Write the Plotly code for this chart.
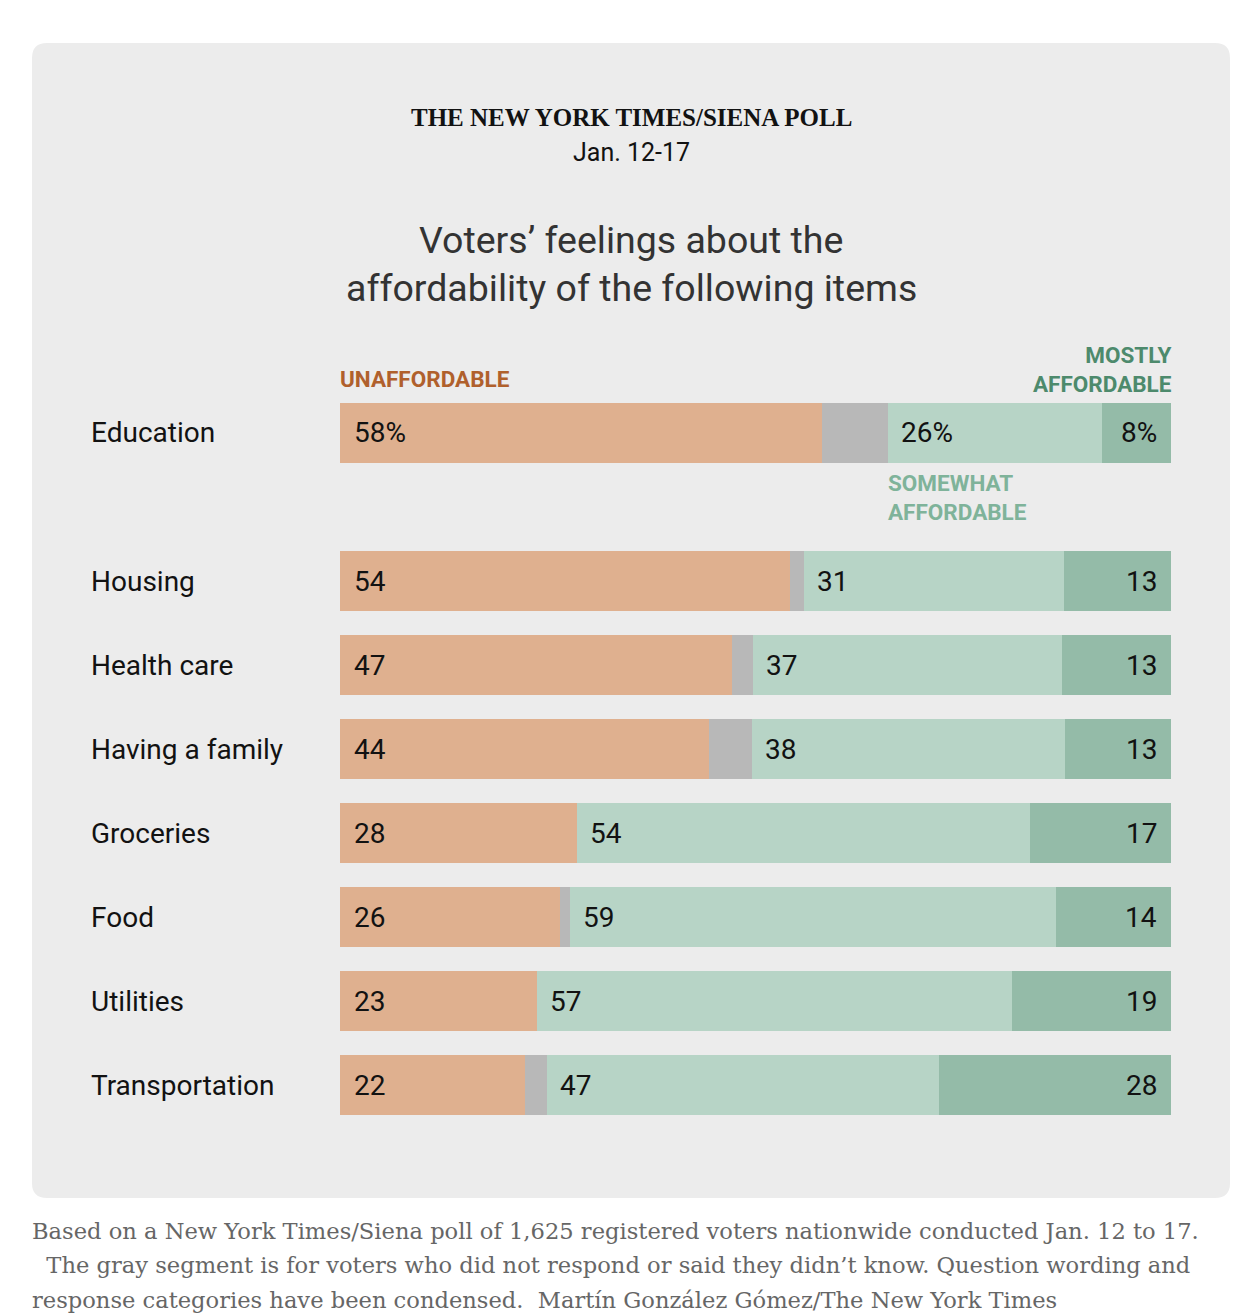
import plotly.graph_objects as go

# poll results, share of voters (%) - widths
items = ['Education', 'Housing', 'Health care', 'Having a family',
         'Groceries', 'Food', 'Utilities', 'Transportation']
unaffordable = [58.0, 54.2, 47.2, 44.4, 28.5, 26.5, 23.7, 22.3]
no_answer = [7.9, 1.6, 2.5, 5.2, 0.0, 1.2, 0.0, 2.6]
somewhat = [25.8, 31.3, 37.2, 37.6, 54.5, 58.5, 57.2, 47.2]
mostly = [8.3, 12.9, 13.1, 12.8, 17.0, 13.8, 19.1, 27.9]

# rounded figures printed on the bars
unaff_labels = [58, 54, 47, 44, 28, 26, 23, 22]
somewhat_labels = [26, 31, 37, 38, 54, 59, 57, 47]
mostly_labels = [8, 13, 13, 13, 17, 14, 19, 28]

W, H = 1234, 1314


def px(x):
    return x / W


def py(y):
    return 1 - y / H


ORANGE = '#dfb08f'
GRAY = '#b8b8b8'
LIGHT_GREEN = '#b7d4c6'
DARK_GREEN = '#94bba8'
SANS = 'Roboto, Arial, sans-serif'
SERIF = 'Liberation Serif, Georgia, serif'
NOTE_SERIF = 'DejaVu Serif, Georgia, serif'

segments = [
    ('Unaffordable', unaffordable, ORANGE),
    ('No answer', no_answer, GRAY),
    ('Somewhat affordable', somewhat, LIGHT_GREEN),
    ('Mostly affordable', mostly, DARK_GREEN),
]

fig = go.Figure()

# Education sits on its own axis (larger gap below it), the rest share y2
for name, vals, color in segments:
    fig.add_trace(go.Bar(
        y=items[:1], x=vals[:1], orientation='h', name=name,
        marker=dict(color=color, line=dict(width=0)),
        xaxis='x', yaxis='y', hoverinfo='skip', showlegend=False))
    fig.add_trace(go.Bar(
        y=items[1:], x=vals[1:], orientation='h', name=name,
        marker=dict(color=color, line=dict(width=0)),
        xaxis='x2', yaxis='y2', hoverinfo='skip', showlegend=False))

annotations = []
label_font = dict(family=SANS, size=28, color='#121212')
for i, item in enumerate(items):
    xr, yr = ('x', 'y') if i == 0 else ('x2', 'y2')
    pct = '%' if i == 0 else ''
    # row label on the left
    annotations.append(dict(
        x=px(89), xref='paper', y=item, yref=yr, text=item,
        xanchor='left', yanchor='middle', showarrow=False,
        font=dict(family=SANS, size=28, color='#121212')))
    annotations.append(dict(
        x=0, xref=xr, y=item, yref=yr, text=f'{unaff_labels[i]}{pct}',
        xanchor='left', yanchor='middle', xshift=12, showarrow=False,
        font=label_font))
    annotations.append(dict(
        x=unaffordable[i] + no_answer[i], xref=xr, y=item, yref=yr,
        text=f'{somewhat_labels[i]}{pct}', xanchor='left', yanchor='middle',
        xshift=11, showarrow=False, font=label_font))
    annotations.append(dict(
        x=100, xref=xr, y=item, yref=yr, text=f'{mostly_labels[i]}{pct}',
        xanchor='right', yanchor='middle', xshift=-12, showarrow=False,
        font=label_font))

# category headers
head_font = dict(family=SANS, size=22.5)
headers = [
    ('UNAFFORDABLE', 0, 379, 'left', -2, '#b0602c'),
    ('MOSTLY<br>AFFORDABLE', 100, 369, 'right', 3, '#4d8a6c'),
    ('SOMEWHAT<br>AFFORDABLE', unaffordable[0] + no_answer[0], 497, 'left', -2, '#7fb39a'),
]
for text, xv, yy, anchor, shift, color in headers:
    annotations.append(dict(
        x=xv, xref='x', y=py(yy), yref='paper', text=f'<b>{text}</b>',
        xanchor=anchor, yanchor='middle', align=anchor, xshift=shift,
        showarrow=False, font=dict(head_font, color=color)))

# titles
titles = [
    ('<b>THE NEW YORK TIMES/SIENA POLL</b>', 118, SERIF, 25, '#121212'),
    ('Jan. 12-17', 152, SANS, 25, '#121212'),
    ('Voters\u2019 feelings about the', 240, SANS, 37.5, '#333333'),
    ('affordability of the following items', 288, SANS, 37.5, '#333333'),
]
for text, yy, family, size, color in titles:
    annotations.append(dict(
        x=px(631), y=py(yy), xref='paper', yref='paper', text=text,
        xanchor='center', yanchor='middle', showarrow=False,
        font=dict(family=family, size=size, color=color)))

# footnote below the panel
notes = [
    'Based on a New York Times/Siena poll of 1,625 registered voters nationwide conducted Jan. 12 to 17.',
    '\u00a0\u00a0The gray segment is for voters who did not respond or said they didn\u2019t know. Question wording and',
    'response categories have been condensed.\u00a0\u00a0Mart\u00edn Gonz\u00e1lez G\u00f3mez/The New York Times',
]
for line, yy in zip(notes, [1231, 1265, 1300]):
    annotations.append(dict(
        x=px(30), y=py(yy), xref='paper', yref='paper', text=line,
        xanchor='left', yanchor='middle', showarrow=False,
        font=dict(family=NOTE_SERIF, size=22.6, color='#666666')))

# rounded grey panel
x0, x1, yt, yb = px(32), px(1230), py(43), py(1198)
rx, ry = 15 / W, 15 / H
panel = (f'M {x0 + rx},{yt} L {x1 - rx},{yt} Q {x1},{yt} {x1},{yt - ry} '
         f'L {x1},{yb + ry} Q {x1},{yb} {x1 - rx},{yb} '
         f'L {x0 + rx},{yb} Q {x0},{yb} {x0},{yb + ry} '
         f'L {x0},{yt - ry} Q {x0},{yt} {x0 + rx},{yt} Z')

xdom = [px(340), px(1171)]
axis_off = dict(showgrid=False, zeroline=False, showticklabels=False,
                showline=False, ticks='')

fig.update_layout(
    width=W, height=H,
    margin=dict(l=0, r=0, t=0, b=0),
    paper_bgcolor='white', plot_bgcolor='rgba(0,0,0,0)',
    barmode='stack', bargap=24 / 84,
    xaxis=dict(axis_off, domain=xdom, range=[0, 100], anchor='y', fixedrange=True),
    xaxis2=dict(axis_off, domain=xdom, range=[0, 100], anchor='y2', fixedrange=True),
    yaxis=dict(axis_off, domain=[py(475), py(391)], anchor='x', fixedrange=True),
    yaxis2=dict(axis_off, domain=[py(1127), py(539)], anchor='x2',
                autorange='reversed', fixedrange=True),
    shapes=[dict(type='path', path=panel, xref='paper', yref='paper',
                 fillcolor='#ececec', line=dict(width=0), layer='below')],
    annotations=annotations,
    showlegend=False,
)

fig.write_html('out.html', config={'displayModeBar': False},
               post_script="document.body.style.margin='0';"
                           "document.body.style.overflow='hidden';")
